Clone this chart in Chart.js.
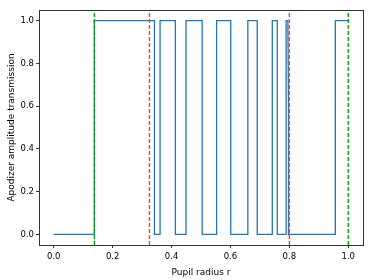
<!DOCTYPE html>
<html><head><meta charset="utf-8">
<script src="https://cdn.jsdelivr.net/npm/chart.js@4"></script>
<style>html,body{margin:0;padding:0;background:#fff}#wrap{width:374px;height:280px}</style>
</head><body><div id="wrap"><canvas id="c" width="374" height="280"></canvas></div>
<script>
// Step profile vertices
const radius = [0, 0.138, 0.138, 0.342, 0.342, 0.361, 0.361, 0.413, 0.413, 0.449, 0.449, 0.504, 0.504, 0.553, 0.553, 0.601, 0.601, 0.659, 0.659, 0.691, 0.691, 0.742, 0.742, 0.759, 0.759, 0.789, 0.789, 0.795, 0.797, 0.797, 0.956, 0.956, 1.0];
const transmission = [0, 0, 1, 1, 0, 0, 1, 1, 0, 0, 1, 1, 0, 0, 1, 1, 0, 0, 1, 1, 0, 0, 1, 1, 0, 0, 1, 1, 0.62, 0, 0, 1, 1];
// Vertical dashed reference lines
const markerR = [0.138, 0.325, 0.8, 1.0];
const markerColors = ['#10a010', '#ff4040', '#ff4040', '#10a010'];
const xTicks = [0, 0.2, 0.4, 0.6, 0.8, 1.0];
const yTicks = [0, 0.2, 0.4, 0.6, 0.8, 1.0];

const profile = radius.map((r, i) => ({x: r, y: transmission[i]}));
const markerSets = markerR.map((r, i) => ({
  data: [{x: r, y: -0.05}, {x: r, y: 1.05}],
  borderColor: markerColors[i], borderWidth: 1.4, borderDash: [4, 2],
  pointRadius: 0, fill: false, tension: 0
}));

const frame = {
  id: 'frame',
  afterDraw(chart) {
    const a = chart.chartArea, ctx = chart.ctx;
    ctx.save(); ctx.strokeStyle = '#333'; ctx.lineWidth = 1;
    ctx.strokeRect(Math.round(a.left) + 0.5, Math.round(a.top) + 0.5, Math.round(a.right - a.left), Math.round(a.bottom - a.top));
    ctx.restore();
  }
};

const tickFont = {family: 'DejaVu Sans', size: 8.5};
const titleFont = {family: 'DejaVu Sans', size: 9};
new Chart(document.getElementById('c'), {
  type: 'line',
  data: { datasets: [...markerSets, {
    data: profile, borderColor: '#1f77b4', borderWidth: 1.3, pointRadius: 0, fill: false, tension: 0
  }]},
  options: {
    responsive: false, animation: false,
    layout: {padding: {top: 10, right: 11, left: 0, bottom: 2}},
    plugins: {legend: {display: false}, tooltip: {enabled: false}},
    scales: {
      x: {
        type: 'linear', min: -0.05, max: 1.05,
        afterBuildTicks: s => { s.ticks = xTicks.map(v => ({value: v})); },
        afterFit: s => { s.height = 33; },
        ticks: {font: tickFont, color: '#000', padding: 4, maxRotation: 0, callback: v => v.toFixed(1)},
        grid: {display: true, drawOnChartArea: false, drawTicks: true, tickLength: 3, color: '#333'},
        border: {display: false},
        title: {display: true, text: 'Pupil radius r', font: titleFont, color: '#000', padding: {top: 0, bottom: 0}}
      },
      y: {
        type: 'linear', min: -0.05, max: 1.05,
        afterBuildTicks: s => { s.ticks = yTicks.map(v => ({value: v})); },
        afterFit: s => { s.width = 39; },
        ticks: {font: tickFont, color: '#000', padding: 2, callback: v => v.toFixed(1)},
        grid: {display: true, drawOnChartArea: false, drawTicks: true, tickLength: 3, color: '#333'},
        border: {display: false},
        title: {display: true, text: 'Apodizer amplitude transmission', font: titleFont, color: '#000', padding: {top: 6, bottom: 0}}
      }
    }
  },
  plugins: [frame]
});
</script></body></html>
